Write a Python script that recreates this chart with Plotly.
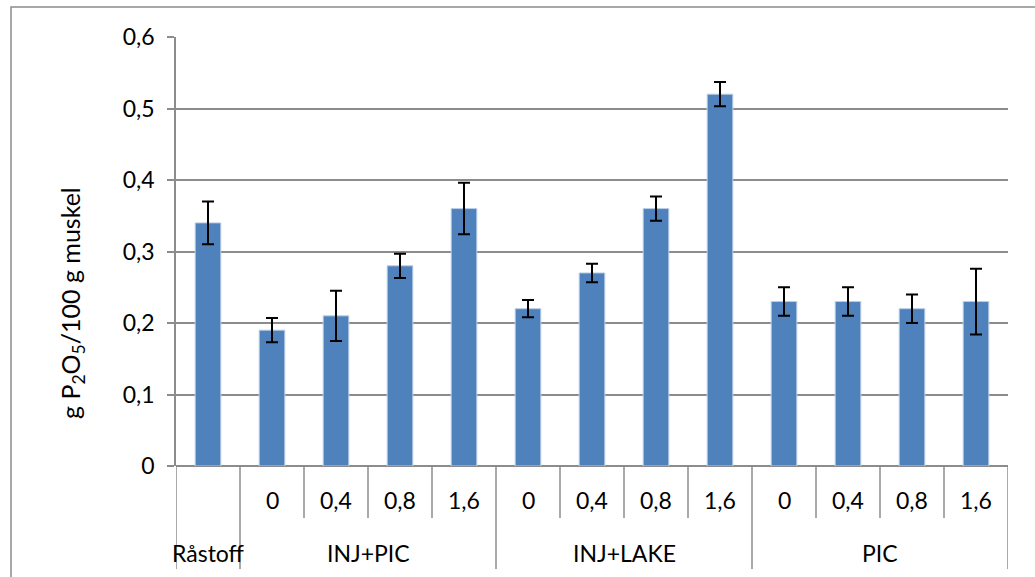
import plotly.graph_objects as go

groups = ["Råstoff", "INJ+PIC", "INJ+LAKE", "PIC"]
group_sizes = [1, 4, 4, 4]
sub_labels = ["", "0", "0,4", "0,8", "1,6", "0", "0,4", "0,8", "1,6", "0", "0,4", "0,8", "1,6"]
values = [0.34, 0.19, 0.21, 0.28, 0.36, 0.22, 0.27, 0.36, 0.52, 0.23, 0.23, 0.22, 0.23]
errors = [0.03, 0.017, 0.035, 0.017, 0.036, 0.012, 0.013, 0.017, 0.017, 0.02, 0.02, 0.02, 0.046]
y_ticks = [0, 0.1, 0.2, 0.3, 0.4, 0.5, 0.6]

W, H = 1035, 577
L, R, T, B = 176, 27, 37, 111
pw, ph = W - L - R, H - T - B

def px_to_py(y):
    return (H - B - y) / ph

def px_to_px(x):
    return (x - L) / pw

FONT = "Lato, 'Open Sans', sans-serif"
FS = 23
GRID = "#8c8c8c"

xs = list(range(len(values)))

fig = go.Figure()
fig.add_trace(go.Bar(
    x=xs, y=values,
    marker=dict(color="#4F81BD", line=dict(color="#B9CDE5", width=1)),
    error_y=dict(type="data", array=errors, visible=True, color="black", thickness=2, width=6),
    width=0.4,
    showlegend=False,
    hoverinfo="skip",
))

shapes = []
annotations = []

for i, lab in enumerate(sub_labels):
    if lab:
        annotations.append(dict(x=i, y=px_to_py(500), xref="x", yref="paper", text=lab,
                                xanchor="center", yanchor="middle",
                                showarrow=False, font=dict(size=FS, color="black", family=FONT)))
bounds = [-0.5]
for s in group_sizes:
    bounds.append(bounds[-1] + s)
for gi, g in enumerate(groups):
    a, b = bounds[gi], bounds[gi + 1]
    annotations.append(dict(x=(a + b) / 2, y=px_to_py(553), xref="x", yref="paper", text=g,
                            xanchor="center", yanchor="middle",
                            showarrow=False, font=dict(size=FS, color="black", family=FONT)))
    for k in range(1, group_sizes[gi]):
        shapes.append(dict(type="line", xref="x", yref="paper", x0=a + k, x1=a + k,
                           y0=0, y1=px_to_py(518), line=dict(color=GRID, width=1.5)))
for bnd in bounds:
    shapes.append(dict(type="line", xref="x", yref="paper", x0=bnd, x1=bnd,
                       y0=0, y1=px_to_py(569), line=dict(color=GRID, width=1.5)))

shapes.append(dict(type="rect", xref="paper", yref="paper",
                   x0=px_to_px(11), x1=px_to_px(1045), y0=px_to_py(590), y1=px_to_py(7),
                   line=dict(color="#8c8c8c", width=1.5), fillcolor="rgba(0,0,0,0)", layer="below"))

annotations.append(dict(x=px_to_px(72), y=px_to_py(303), xref="paper", yref="paper",
                        xanchor="center", yanchor="middle",
                        text="g P<sub>2</sub>O<sub>5</sub>/100 g muskel", textangle=-90,
                        showarrow=False, font=dict(size=25, color="black", family=FONT)))

fig.update_layout(
    width=W, height=H,
    margin=dict(l=L, r=R, t=T, b=B, pad=0),
    paper_bgcolor="white", plot_bgcolor="white",
    separators=", ",
    bargap=0.6,
    shapes=shapes,
    annotations=annotations,
    font=dict(family=FONT, size=FS, color="black"),
    xaxis=dict(range=[-0.5, len(values) - 0.5], showticklabels=False, showgrid=False,
               zeroline=False, showline=False, ticks=""),
    yaxis=dict(range=[0, 0.6], tickvals=y_ticks, showgrid=True, gridcolor=GRID, gridwidth=1.5,
               showline=True, linecolor=GRID, linewidth=1.5, ticks="outside", ticklen=7,
               tickcolor=GRID, tickwidth=1.5, zeroline=True, zerolinecolor=GRID, zerolinewidth=1.5,
               tickfont=dict(size=FS, color="black", family=FONT), ticklabelstandoff=8),
)

fig.write_html("out.html", config={"displayModeBar": False},
               post_script="document.body.style.margin='0';document.body.style.overflow='hidden';")
